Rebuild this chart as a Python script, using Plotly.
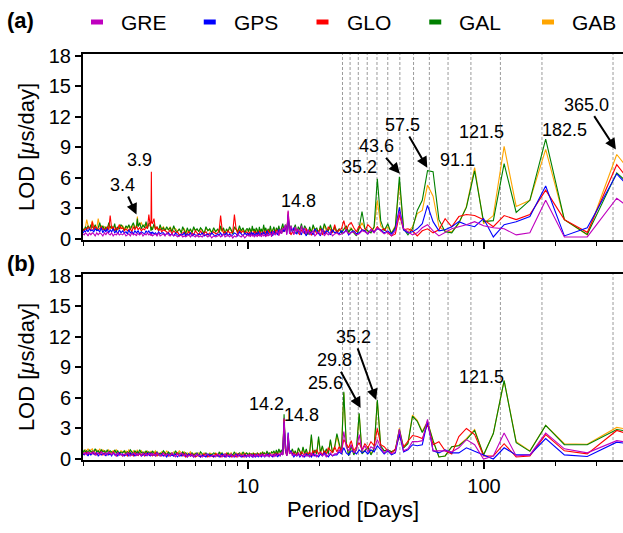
import math
import plotly.graph_objects as go

# ---------------- data ----------------
N_DAYS = 1095  # record length (days); periods = N_DAYS / k
K_LONG = list(range(2, 47))
K_MID = list(range(47, 111))
K_SHORT = [111, 113, 115, 117, 119, 121, 123, 125, 127, 129,
           131, 133, 135, 137, 139, 141, 143, 145, 147, 150,
           153, 156, 159, 162, 165, 168, 171, 174, 177, 180,
           183, 186, 189, 192, 195, 198, 201, 204, 207, 210,
           214, 218, 222, 226, 230, 234, 238, 242, 246, 250,
           254, 258, 262, 266, 270, 274, 278, 280, 281, 282,
           284, 288, 292, 296, 300, 305, 310, 315, 320, 322,
           325, 330, 335, 340, 345, 350, 355, 360, 366, 372,
           378, 384, 390, 396, 402, 408, 414, 420, 426, 432,
           438, 444, 451, 458, 465, 472, 479, 486, 493, 500,
           507, 514, 521, 528, 535, 541, 547]

SERIES = ["GRE", "GPS", "GLO", "GAL", "GAB"]
COLORS = {"GRE": "#bf00bf", "GPS": "#0000ff", "GLO": "#ff0000",
          "GAL": "#008000", "GAB": "#ffa500"}

# ---- panel (a) ----
A_GAL_LONG = [2.8, 6.5, 0.45, 1.9, 9.8, 3.8, 2.6, 7.4, 1.8, 1.7, 6.7, 3.1, 1.6, 0.6, 0.7,
              1.9, 6.6, 6.7, 3.8, 2.8, 1.0, 0.4, 1.0, 6.1, 1.2, 0.5, 1.5, 0.8, 1.8, 5.9,
              1.2, 0.6, 0.8, 1.0, 2.7, 1.1, 0.3, 0.6, 1.0, 0.7, 1.3, 0.9, 0.6, 1.0, 0.7]
A_GAB_LONG = [3.2, 8.3, 0.4, 1.9, 8.8, 3.8, 3.2, 9.1, 2.3, 1.5, 7.0, 3.2, 1.5, 0.7, 0.8,
              1.2, 4.2, 5.3, 2.8, 2.5, 1.2, 0.7, 1.0, 5.5, 1.3, 0.6, 1.2, 0.9, 1.3, 3.8,
              1.1, 0.8, 0.7, 1.0, 1.6, 1.0, 0.4, 0.7, 1.1, 0.6, 1.2, 1.0, 0.7, 0.9, 0.6]
A_GLO_LONG = [2.1, 7.3, 0.65, 1.9, 4.8, 2.4, 1.9, 2.3, 1.2, 1.9, 2.3, 2.4, 2.2, 1.2, 2.0,
              0.9, 0.6, 1.0, 0.8, 0.3, 0.8, 1.0, 0.9, 2.4, 0.5, 0.3, 0.6, 1.0, 0.8, 1.2,
              0.7, 1.1, 1.4, 0.8, 0.9, 1.3, 0.7, 1.1, 1.6, 1.4, 0.8, 1.8, 1.0, 0.9, 0.6]
A_GPS_LONG = [2.0, 6.4, 1.1, 0.3, 5.2, 2.2, 1.7, 1.4, 0.2, 2.0, 1.2, 1.4, 1.7, 1.2, 0.9,
              0.8, 1.7, 3.3, 1.5, 1.0, 0.7, 0.6, 0.9, 3.1, 1.0, 0.5, 0.8, 0.6, 0.9, 1.0,
              0.7, 0.9, 0.5, 0.8, 0.9, 0.6, 0.5, 0.8, 0.7, 0.4, 0.9, 0.6, 0.8, 0.5, 0.7]
A_GRE_LONG = [0.9, 4.0, 0.2, 0.2, 3.8, 0.6, 0.4, 1.0, 1.1, 1.3, 1.7, 1.4, 1.2, 1.0, 0.6,
              0.3, 0.8, 1.4, 1.1, 0.6, 0.4, 0.7, 1.0, 2.7, 0.8, 0.3, 0.7, 0.5, 0.8, 1.1,
              0.6, 0.9, 0.5, 0.7, 0.8, 0.5, 0.4, 0.7, 0.6, 0.5, 0.8, 0.6, 0.5, 0.4, 0.6]

A_GAL_MID = [1.2, 0.6, 1.4, 0.8, 1.0, 1.5, 0.7, 1.3, 0.5, 1.1, 0.9, 1.4, 0.6, 1.2, 0.4, 1.0,
             1.3, 0.7, 1.5, 0.9, 1.2, 0.6, 1.4, 1.0, 0.7, 1.3, 0.8, 2.2, 0.9, 1.4, 0.8, 1.5,
             1.0, 0.6, 1.3, 0.8, 1.1, 0.5, 1.2, 0.9, 0.6, 1.3, 0.7, 1.0, 0.5, 1.1, 0.8, 1.4,
             0.6, 1.0, 0.7, 1.2, 0.5, 0.9, 1.1, 0.6, 1.0, 0.8, 1.3, 0.6, 0.9, 1.1, 0.7, 1.0]
A_GAB_MID = [1.0, 0.7, 1.2, 0.9, 0.8, 1.3, 0.6, 1.1, 0.7, 1.0, 0.8, 1.2, 0.7, 1.0, 0.5, 0.9,
             1.1, 0.8, 1.2, 0.7, 1.0, 0.7, 1.2, 0.9, 0.8, 1.1, 0.7, 2.0, 0.8, 1.2, 0.7, 1.3,
             0.9, 0.7, 1.1, 0.8, 1.0, 0.6, 1.1, 0.8, 0.7, 1.1, 0.6, 0.9, 0.6, 1.0, 0.7, 1.2,
             0.7, 0.9, 0.6, 1.0, 0.6, 0.8, 1.0, 0.7, 0.9, 0.7, 1.1, 0.7, 0.8, 1.0, 0.7, 0.9]
A_GLO_MID = [1.4, 0.6, 0.9, 1.2, 0.5, 0.8, 0.4, 1.0, 0.7, 0.5, 0.9, 0.6, 0.4, 0.8, 0.6, 1.0,
             0.5, 0.7, 0.9, 0.4, 0.6, 0.8, 1.0, 0.5, 0.7, 0.4, 0.9, 2.7, 0.6, 1.1, 0.7, 0.9,
             0.5, 0.8, 0.4, 0.7, 0.9, 0.6, 0.5, 0.8, 0.4, 0.7, 0.6, 0.9, 0.3, 0.6, 0.8, 0.5,
             0.7, 0.4, 0.6, 0.8, 0.3, 0.6, 0.7, 0.5, 0.8, 0.4, 0.6, 0.7, 0.4, 0.7, 0.5, 0.6]
A_GPS_MID = [0.6, 0.9, 0.4, 0.7, 0.8, 0.5, 1.0, 0.3, 0.6, 0.8, 1.0, 0.4, 0.7, 0.5, 0.9, 0.3,
             0.6, 1.0, 0.4, 0.7, 0.8, 0.5, 0.6, 1.1, 0.7, 1.2, 0.6, 2.4, 0.5, 1.3, 0.7, 1.0,
             0.5, 0.8, 0.9, 0.4, 0.6, 0.5, 0.8, 0.3, 0.7, 0.5, 0.4, 0.6, 0.8, 0.3, 0.5, 0.7,
             0.4, 0.6, 0.3, 0.5, 0.7, 0.4, 0.6, 0.3, 0.5, 0.6, 0.4, 0.7, 0.3, 0.5, 0.4, 0.6]
A_GRE_MID = [0.5, 0.3, 0.7, 0.4, 0.6, 0.3, 0.9, 0.4, 0.7, 0.5, 0.3, 0.8, 0.6, 0.4, 0.9, 0.5,
             1.1, 0.6, 1.3, 0.5, 1.0, 0.7, 1.2, 0.4, 0.9, 1.3, 0.5, 2.8, 0.4, 1.4, 0.9, 1.1,
             0.5, 1.0, 0.3, 0.8, 0.6, 0.4, 0.5, 0.7, 0.2, 0.6, 0.4, 0.3, 0.5, 0.2, 0.4, 0.3,
             0.5, 0.2, 0.4, 0.3, 0.5, 0.2, 0.4, 0.3, 0.2, 0.4, 0.3, 0.5, 0.2, 0.4, 0.3, 0.4]

A_GAL_SHORT = [1.0, 0.6, 1.1, 0.8, 1.3, 0.7, 1.0, 1.2, 0.5, 0.9,
               1.2, 0.7, 1.0, 0.5, 1.1, 0.8, 1.3, 0.6, 1.0, 0.7,
               1.1, 0.6, 1.0, 0.8, 1.2, 0.5, 0.9, 1.1, 0.7, 1.0,
               0.8, 1.2, 0.6, 1.0, 0.7, 1.1, 0.5, 0.9, 1.2, 0.6,
               1.0, 0.7, 0.8, 1.3, 0.7, 1.1, 0.9, 1.2, 0.8, 1.1,
               0.9, 1.4, 0.8, 1.2, 1.0, 1.5, 0.9, 1.0, 1.2, 0.8,
               1.6, 1.5, 1.0, 1.7, 1.1, 1.4, 1.0, 1.6, 1.2, 2.0,
               1.2, 1.0, 1.6, 1.3, 0.9, 1.4, 1.1, 1.3, 0.8, 1.2,
               1.4, 1.0, 1.2, 0.7, 1.5, 0.9, 1.3, 1.1, 1.6, 0.9,
               1.2, 0.8, 1.3, 1.0, 1.6, 1.1, 0.8, 1.4, 1.0, 1.2,
               1.4, 0.9, 1.3, 1.0, 1.2, 0.8, 1.0]
A_GAB_SHORT = [0.9, 0.7, 1.0, 0.6, 1.1, 0.8, 0.9, 1.1, 0.6, 0.8,
               1.0, 0.8, 0.9, 0.6, 1.0, 0.7, 1.1, 0.7, 0.9, 0.8,
               0.9, 0.7, 0.8, 0.9, 1.0, 0.6, 0.8, 1.0, 0.8, 0.9,
               0.9, 1.0, 0.7, 0.9, 0.6, 0.8, 0.7, 1.0, 0.9, 0.7,
               0.9, 0.8, 1.0, 1.1, 0.8, 1.2, 0.9, 1.0, 0.9, 1.2,
               1.0, 1.2, 0.9, 1.1, 1.0, 1.3, 1.0, 1.2, 1.1, 0.9,
               1.3, 1.4, 1.2, 1.3, 1.4, 1.2, 1.6, 1.4, 1.3, 2.2,
               1.3, 1.2, 1.5, 1.1, 1.2, 1.3, 1.0, 1.2, 1.0, 1.3,
               1.1, 1.4, 1.0, 0.9, 1.3, 1.1, 1.2, 1.0, 1.4, 1.1,
               1.0, 1.2, 1.1, 1.3, 1.2, 2.0, 1.0, 1.3, 1.2, 1.8,
               1.2, 1.1, 1.3, 1.9, 1.1, 0.9, 1.0]
A_GLO_SHORT = [0.7, 0.5, 0.8, 0.6, 0.9, 0.5, 1.0, 2.4, 0.7, 0.6,
               0.6, 0.8, 0.5, 0.7, 0.6, 1.0, 2.3, 0.9, 0.6, 0.5,
               0.7, 0.5, 0.6, 0.4, 0.7, 0.6, 0.5, 0.8, 0.4, 0.6,
               0.8, 0.4, 0.6, 0.5, 0.7, 0.6, 0.4, 0.7, 0.6, 0.5,
               0.4, 0.7, 0.6, 0.8, 0.5, 0.9, 0.6, 0.7, 0.8, 0.9,
               0.7, 1.0, 0.8, 1.2, 0.9, 2.0, 1.5, 1.6, 6.6, 1.8,
               1.2, 2.4, 1.0, 1.2, 0.9, 1.0, 0.8, 1.1, 0.9, 1.1,
               1.2, 0.9, 1.2, 0.7, 1.0, 0.9, 0.8, 1.0, 0.8, 1.1,
               1.0, 1.4, 0.9, 1.1, 0.8, 1.2, 1.0, 2.3, 0.9, 1.2,
               0.8, 1.0, 0.9, 1.2, 1.0, 0.9, 1.1, 1.2, 0.9, 1.7,
               0.8, 1.0, 1.2, 0.9, 1.0, 0.9, 0.8]
A_GPS_SHORT = [0.4, 0.6, 0.3, 0.5, 0.7, 0.3, 0.5, 0.6, 0.4, 0.3,
               0.5, 0.3, 0.6, 0.4, 0.5, 0.3, 0.6, 0.4, 0.5, 0.3,
               0.4, 0.6, 0.3, 0.5, 0.4, 0.3, 0.6, 0.4, 0.5, 0.3,
               0.4, 0.5, 0.3, 0.6, 0.4, 0.5, 0.3, 0.6, 0.4, 0.5,
               0.3, 0.4, 0.6, 0.3, 0.5, 0.4, 0.6, 0.5, 0.4, 0.6,
               0.6, 0.5, 0.7, 0.4, 0.6, 0.5, 0.7, 0.5, 0.6, 0.7,
               0.5, 0.8, 0.6, 0.8, 0.5, 0.6, 0.7, 0.5, 0.8, 0.7,
               0.6, 0.8, 0.5, 0.7, 0.6, 0.9, 0.5, 0.7, 0.6, 0.8,
               0.6, 0.9, 0.5, 0.8, 0.6, 1.0, 0.7, 0.9, 0.6, 1.0,
               0.7, 0.9, 0.6, 1.1, 0.7, 0.9, 0.8, 1.0, 0.7, 0.9,
               0.8, 1.0, 0.7, 0.9, 0.7, 0.8, 0.6]
A_GRE_SHORT = [0.3, 0.1, 0.4, 0.2, 0.3, 0.5, 0.2, 0.3, 0.1, 0.4,
               0.2, 0.4, 0.3, 0.2, 0.5, 0.3, 0.2, 0.4, 0.3, 0.2,
               0.3, 0.1, 0.4, 0.2, 0.3, 0.5, 0.2, 0.3, 0.2, 0.4,
               0.2, 0.3, 0.5, 0.2, 0.4, 0.3, 0.2, 0.3, 0.2, 0.4,
               0.3, 0.2, 0.4, 0.3, 0.5, 0.3, 0.4, 0.6, 0.3, 0.5,
               0.4, 0.3, 0.6, 0.3, 0.5, 0.4, 0.3, 0.5, 0.4, 0.3,
               0.5, 0.4, 0.6, 0.4, 0.5, 0.3, 0.6, 0.4, 0.5, 0.6,
               0.3, 0.5, 0.4, 0.6, 0.3, 0.5, 0.4, 0.3, 0.6, 0.4,
               0.5, 0.4, 0.6, 0.4, 0.5, 0.3, 0.6, 0.4, 0.5, 0.7,
               0.4, 0.6, 0.3, 0.5, 0.6, 0.4, 0.6, 0.3, 0.5, 0.6,
               0.4, 0.6, 0.3, 0.5, 0.6, 0.4, 0.5]

# ---- panel (b) ----
B_GAL_LONG = [2.2, 2.9, 1.4, 1.4, 3.3, 0.75, 1.6, 7.7, 2.5, 0.4, 2.8, 1.9, 1.3, 1.2, 0.3,
              0.2, 1.8, 3.6, 2.6, 3.7, 4.2, 1.5, 1.1, 2.9, 0.9, 0.7, 0.9, 0.8, 1.3, 5.8,
              1.0, 0.4, 1.2, 0.8, 0.5, 4.5, 1.0, 0.4, 1.3, 0.3, 1.6, 6.6, 0.6, 1.4, 2.5]
B_GAB_LONG = [2.4, 3.1, 1.45, 1.5, 3.3, 0.8, 1.7, 7.7, 2.5, 0.4, 2.9, 2.0, 1.35, 1.2, 0.3,
              0.2, 1.8, 3.7, 2.7, 3.8, 4.3, 1.6, 1.1, 3.0, 0.9, 0.7, 0.9, 0.8, 1.2, 5.7,
              1.1, 0.5, 1.1, 0.9, 0.6, 4.4, 0.9, 0.5, 1.2, 0.4, 1.5, 6.5, 0.7, 1.3, 2.3]
B_GLO_LONG = [1.6, 2.8, 0.5, 0.8, 2.4, 0.3, 0.2, 1.5, 0.3, 0.3, 2.4, 3.0, 2.2, 0.5, 0.8,
              1.7, 1.4, 3.4, 2.0, 2.2, 2.3, 1.8, 1.2, 2.3, 1.0, 0.6, 0.8, 1.2, 1.4, 3.0,
              1.3, 1.7, 1.1, 1.5, 0.9, 1.6, 1.2, 0.8, 1.8, 1.1, 1.5, 1.9, 0.8, 1.2, 0.7]
B_GPS_LONG = [1.1, 1.65, 0.25, 0.4, 2.0, 0.4, 0.4, 1.1, 0.0, 0.4, 0.75, 1.1, 0.6, 0.6, 0.9,
              0.6, 0.8, 3.7, 1.4, 1.3, 1.4, 0.9, 0.7, 2.5, 0.6, 0.4, 0.8, 0.5, 0.9, 1.3,
              0.7, 0.9, 0.5, 0.8, 0.6, 0.9, 0.5, 0.7, 0.8, 0.4, 0.6, 1.1, 0.5, 0.7, 0.4]
B_GRE_LONG = [1.2, 1.8, 0.6, 1.0, 2.55, 0.4, 0.3, 2.55, 0.3, 0.0, 1.4, 1.9, 1.1, 0.7, 0.8,
              0.8, 0.8, 3.9, 1.8, 1.7, 1.7, 1.0, 0.8, 2.9, 0.7, 0.5, 0.9, 0.6, 1.1, 1.9,
              1.0, 1.2, 0.7, 1.3, 0.8, 2.4, 0.9, 0.6, 1.4, 0.8, 1.2, 2.7, 0.6, 0.9, 0.5]

B_GAL_MID = [1.2, 0.6, 1.9, 0.5, 1.0, 0.4, 1.3, 0.6, 2.2, 0.5, 0.9, 0.4, 2.4, 0.6, 0.3, 1.0,
             0.5, 1.2, 0.4, 0.7, 1.1, 0.3, 0.8, 0.5, 1.0, 0.6, 0.8, 2.2, 0.4, 1.0, 4.4, 0.5,
             0.9, 0.6, 1.0, 0.5, 0.9, 0.4, 0.8, 0.6, 0.7, 0.4, 0.6, 0.5, 0.8, 0.3, 0.6, 0.5,
             0.7, 0.4, 0.6, 0.3, 0.5, 0.6, 0.3, 0.5, 0.4, 0.6, 0.3, 0.5, 0.4, 0.6, 0.3, 0.5]
B_GAB_MID = [1.1, 0.6, 1.8, 0.6, 0.9, 0.5, 1.2, 0.6, 2.0, 0.6, 0.8, 0.5, 2.2, 0.6, 0.4, 0.9,
             0.5, 1.1, 0.5, 0.7, 1.0, 0.4, 0.8, 0.5, 0.9, 0.6, 0.7, 2.1, 0.4, 0.9, 4.0, 0.5,
             0.8, 0.6, 0.9, 0.5, 0.8, 0.5, 0.7, 0.6, 0.7, 0.5, 0.6, 0.5, 0.7, 0.4, 0.6, 0.5,
             0.7, 0.5, 0.6, 0.4, 0.5, 0.6, 0.4, 0.5, 0.5, 0.6, 0.4, 0.5, 0.5, 0.6, 0.4, 0.5]
B_GLO_MID = [1.2, 0.6, 0.9, 1.1, 0.5, 0.8, 0.4, 0.7, 0.5, 0.9, 0.6, 0.8, 0.3, 0.7, 0.5, 0.6,
             0.4, 0.5, 0.7, 0.3, 0.6, 0.5, 0.4, 0.6, 0.5, 0.8, 0.5, 1.3, 0.3, 0.8, 3.9, 0.4,
             0.6, 0.3, 0.5, 0.4, 0.6, 0.3, 0.5, 0.4, 0.3, 0.5, 0.4, 0.3, 0.5, 0.4, 0.3, 0.4,
             0.5, 0.3, 0.4, 0.3, 0.5, 0.4, 0.3, 0.4, 0.5, 0.3, 0.4, 0.3, 0.5, 0.3, 0.4, 0.3]
B_GPS_MID = [0.4, 0.3, 0.5, 0.2, 0.4, 0.6, 0.3, 0.5, 0.2, 0.4, 0.3, 0.5, 0.2, 0.4, 0.3, 0.5,
             0.2, 0.3, 0.4, 0.2, 0.5, 0.3, 0.4, 0.2, 0.5, 0.8, 0.6, 2.6, 0.3, 1.0, 3.6, 0.4,
             0.6, 0.3, 0.4, 0.2, 0.5, 0.3, 0.4, 0.2, 0.3, 0.4, 0.2, 0.5, 0.3, 0.4, 0.2, 0.3,
             0.4, 0.2, 0.3, 0.4, 0.2, 0.3, 0.4, 0.2, 0.3, 0.4, 0.2, 0.3, 0.4, 0.2, 0.3, 0.4]
B_GRE_MID = [0.5, 0.3, 0.6, 0.4, 0.2, 0.5, 0.3, 0.6, 0.4, 0.2, 0.5, 0.3, 0.6, 0.2, 0.4, 0.3,
             0.5, 0.2, 0.4, 0.3, 0.6, 0.3, 0.4, 0.5, 0.3, 0.7, 0.5, 2.5, 0.3, 1.1, 4.0, 0.4,
             0.7, 0.3, 0.5, 0.4, 0.3, 0.5, 0.2, 0.4, 0.3, 0.5, 0.2, 0.4, 0.3, 0.5, 0.2, 0.4,
             0.3, 0.5, 0.2, 0.4, 0.3, 0.5, 0.2, 0.4, 0.3, 0.2, 0.4, 0.3, 0.5, 0.2, 0.4, 0.3]

B_GAL_SHORT = [0.6, 0.4, 0.7, 0.3, 0.6, 0.5, 0.3, 0.7, 0.4, 0.5,
               0.3, 0.6, 0.4, 0.5, 0.3, 0.6, 0.4, 0.7, 0.3, 0.5,
               0.6, 0.4, 0.5, 0.3, 0.6, 0.4, 0.5, 0.7, 0.3, 0.6,
               0.5, 0.4, 0.6, 0.3, 0.5, 0.4, 0.6, 0.5, 0.7, 0.4,
               0.6, 0.5, 0.8, 0.4, 0.6, 0.5, 0.7, 0.4, 0.6, 0.8,
               0.5, 0.6, 0.4, 0.7, 0.5, 0.6, 0.8, 0.5, 0.7, 0.6,
               0.5, 0.7, 0.6, 0.8, 0.5, 0.7, 0.6, 0.9, 0.5, 0.7,
               0.6, 0.8, 0.5, 0.7, 0.9, 0.6, 0.7, 0.5, 0.8, 0.6,
               0.7, 0.5, 0.8, 0.6, 0.9, 0.5, 0.7, 0.8, 0.6, 0.9,
               0.6, 0.8, 0.7, 0.9, 0.6, 0.8, 0.7, 1.0, 0.7, 0.8,
               0.7, 0.9, 0.6, 0.8, 0.7, 0.9, 0.6]
B_GAB_SHORT = [0.5, 0.6, 0.4, 0.6, 0.5, 0.4, 0.6, 0.5, 0.3, 0.6,
               0.5, 0.4, 0.6, 0.3, 0.5, 0.4, 0.6, 0.5, 0.4, 0.6,
               0.3, 0.5, 0.6, 0.4, 0.5, 0.6, 0.4, 0.5, 0.6, 0.4,
               0.6, 0.5, 0.4, 0.7, 0.5, 0.6, 0.4, 0.7, 0.5, 0.6,
               0.8, 0.5, 0.6, 0.7, 0.5, 0.6, 0.5, 0.8, 0.5, 0.6,
               0.7, 0.5, 0.6, 0.5, 0.8, 0.6, 0.5, 0.7, 0.6, 0.8,
               0.6, 0.5, 0.8, 0.6, 0.7, 0.5, 0.8, 0.6, 0.7, 0.9,
               0.7, 0.6, 0.8, 0.5, 0.7, 0.9, 0.6, 0.8, 0.6, 0.7,
               0.8, 0.6, 0.7, 0.9, 0.6, 0.8, 0.7, 0.6, 0.9, 0.7,
               0.8, 0.7, 0.9, 0.6, 1.0, 0.7, 0.9, 0.8, 0.7, 1.0,
               0.9, 0.7, 1.0, 0.8, 0.9, 0.7, 0.8]
B_GLO_SHORT = [0.3, 0.5, 0.2, 0.4, 0.3, 0.5, 0.2, 0.4, 0.3, 0.2,
               0.4, 0.3, 0.5, 0.2, 0.4, 0.3, 0.2, 0.4, 0.3, 0.5,
               0.2, 0.3, 0.4, 0.2, 0.3, 0.5, 0.3, 0.2, 0.4, 0.3,
               0.2, 0.4, 0.3, 0.5, 0.3, 0.4, 0.2, 0.5, 0.3, 0.4,
               0.3, 0.6, 0.4, 0.3, 0.5, 0.4, 0.3, 0.5, 0.4, 0.6,
               0.3, 0.4, 0.5, 0.3, 0.6, 0.4, 0.3, 0.5, 0.4, 0.6,
               0.3, 0.5, 0.4, 0.6, 0.3, 0.5, 0.4, 0.6, 0.3, 0.5,
               0.4, 0.6, 0.3, 0.5, 0.4, 0.6, 0.3, 0.5, 0.4, 0.3,
               0.5, 0.4, 0.6, 0.3, 0.5, 0.7, 0.4, 0.6, 0.5, 0.4,
               0.5, 0.6, 0.4, 0.7, 0.5, 0.6, 0.4, 0.6, 0.5, 0.7,
               0.5, 0.6, 0.4, 0.7, 0.5, 0.6, 0.4]
B_GPS_SHORT = [0.2, 0.4, 0.3, 0.2, 0.4, 0.3, 0.5, 0.2, 0.3, 0.4,
               0.2, 0.3, 0.4, 0.2, 0.3, 0.5, 0.3, 0.2, 0.4, 0.3,
               0.2, 0.4, 0.3, 0.5, 0.2, 0.3, 0.4, 0.2, 0.3, 0.5,
               0.3, 0.2, 0.4, 0.3, 0.5, 0.2, 0.4, 0.3, 0.5, 0.3,
               0.4, 0.2, 0.5, 0.3, 0.4, 0.3, 0.5, 0.2, 0.4, 0.3,
               0.5, 0.3, 0.4, 0.6, 0.3, 0.4, 0.5, 0.3, 0.4, 0.6,
               0.3, 0.4, 0.6, 0.3, 0.5, 0.4, 0.3, 0.5, 0.4, 0.6,
               0.4, 0.3, 0.5, 0.4, 0.6, 0.3, 0.5, 0.4, 0.3, 0.5,
               0.4, 0.6, 0.3, 0.5, 0.4, 0.6, 0.3, 0.5, 0.4, 0.6,
               0.3, 0.5, 0.6, 0.4, 0.5, 0.3, 0.6, 0.4, 0.5, 0.6,
               0.4, 0.6, 0.3, 0.5, 0.6, 0.4, 0.5]
B_GRE_SHORT = [0.3, 0.2, 0.4, 0.3, 0.5, 0.2, 0.4, 0.3, 0.2, 0.5,
               0.3, 0.4, 0.2, 0.5, 0.3, 0.2, 0.4, 0.3, 0.5, 0.2,
               0.4, 0.3, 0.2, 0.4, 0.5, 0.3, 0.2, 0.4, 0.3, 0.5,
               0.4, 0.2, 0.5, 0.3, 0.4, 0.2, 0.5, 0.3, 0.4, 0.6,
               0.3, 0.5, 0.2, 0.4, 0.6, 0.3, 0.4, 0.5, 0.3, 0.6,
               0.4, 0.3, 0.5, 0.6, 0.3, 0.5, 0.4, 0.6, 0.3, 0.5,
               0.4, 0.6, 0.3, 0.5, 0.4, 0.6, 0.3, 0.5, 0.4, 0.6,
               0.3, 0.5, 0.6, 0.4, 0.3, 0.5, 0.6, 0.4, 0.5, 0.3,
               0.5, 0.4, 0.6, 0.3, 0.5, 0.6, 0.4, 0.5, 0.7, 0.4,
               0.6, 0.4, 0.5, 0.7, 0.4, 0.6, 0.5, 0.4, 0.7, 0.5,
               0.6, 0.5, 0.7, 0.4, 0.6, 0.5, 0.6]

# reference period lines (P/n) and peak labels
REF_BASE_PERIOD = 352.0
REF_HARMONICS = list(range(1, 15))

# (label, text x [days], text y, arrow head x [days] or None, arrow head y)
LABELS_A = [("3.4", 2.95, 5.3, 3.37, 2.4), ("3.9", 3.46, 7.8, None, None),
            ("14.8", 16.3, 3.7, None, None), ("35.2", 29.6, 7.1, None, None),
            ("43.6", 34.9, 9.1, 44.0, 6.4), ("57.5", 45.2, 11.2, 57.5, 7.0),
            ("91.1", 77.1, 7.8, None, None), ("121.5", 97.1, 10.5, None, None),
            ("182.5", 218.9, 10.7, None, None), ("365.0", 272.4, 13.2, 362.0, 8.8)]
LABELS_B = [("14.2", 12.0, 5.4, None, None), ("14.8", 16.9, 4.3, None, None),
            ("25.6", 21.4, 7.5, None, None), ("29.8", 23.3, 9.7, 30.0, 5.0),
            ("35.2", 28.0, 12.0, 34.9, 5.8), ("121.5", 97.8, 8.05, None, None)]

# ---------------- figure ----------------
FONT = "Liberation Sans, Arial, sans-serif"
K_ALL = K_LONG + K_MID + K_SHORT
PERIODS = [N_DAYS / k for k in K_ALL]

panels = {
    "a": {"GRE": A_GRE_LONG + A_GRE_MID + A_GRE_SHORT,
          "GPS": A_GPS_LONG + A_GPS_MID + A_GPS_SHORT,
          "GLO": A_GLO_LONG + A_GLO_MID + A_GLO_SHORT,
          "GAL": A_GAL_LONG + A_GAL_MID + A_GAL_SHORT,
          "GAB": A_GAB_LONG + A_GAB_MID + A_GAB_SHORT},
    "b": {"GRE": B_GRE_LONG + B_GRE_MID + B_GRE_SHORT,
          "GPS": B_GPS_LONG + B_GPS_MID + B_GPS_SHORT,
          "GLO": B_GLO_LONG + B_GLO_MID + B_GLO_SHORT,
          "GAL": B_GAL_LONG + B_GAL_MID + B_GAL_SHORT,
          "GAB": B_GAB_LONG + B_GAB_MID + B_GAB_SHORT},
}
axes = {"a": ("x", "y"), "b": ("x2", "y2")}

fig = go.Figure()
# draw order: GAB first ... GRE last (on top)
for p in ["a", "b"]:
    xa, ya = axes[p]
    for name in reversed(SERIES):
        vals = panels[p][name]
        pts = sorted(zip(PERIODS, vals))
        fig.add_trace(go.Scatter(
            x=[q[0] for q in pts], y=[q[1] for q in pts], mode="lines", name=name,
            line=dict(color=COLORS[name], width=1.1), showlegend=False,
            xaxis=xa, yaxis=ya, hoverinfo="skip"))

XR = [math.log10(2.0), math.log10(388.0)]
minor_vals = [2, 3, 4, 5, 6, 7, 8, 9, 20, 30, 40, 50, 60, 70, 80, 90, 200, 300]
xcommon = dict(type="log", range=XR, showline=True, linewidth=2, linecolor="black",
               mirror=True, ticks="outside", ticklen=7, tickwidth=1.5, tickcolor="black",
               tickvals=[10, 100], ticktext=["10", "100"], showgrid=False, zeroline=False,
               minor=dict(tickvals=minor_vals, ticks="outside", ticklen=4, tickwidth=1.2,
                          tickcolor="black", showgrid=False),
               tickfont=dict(size=20, family=FONT, color="black"))
ycommon = dict(range=[-0.1, 18.17], tickvals=[0, 3, 6, 9, 12, 15, 18], showline=True,
               linewidth=2, linecolor="black", ticks="outside", ticklen=6, tickwidth=1.5,
               tickcolor="black", showgrid=False, zeroline=False,
               tickfont=dict(size=20, family=FONT, color="black"),
               title=dict(text="LOD [<i>μ</i>s/day]", font=dict(size=22, family=FONT,
                                                               color="black"), standoff=8))

# pixel geometry of the plotting area (used for paper placement of legend & labels)
W, H = 623, 533
ML, MR, MT, MB = 83, 0, 54, 73
PW, PH = W - ML - MR, H - MT - MB

def px_to_paper(px, py):
    return (px - ML) / PW, (H - MB - py) / PH

dom_a = [0.5419, 1.0]
dom_b = [0.0, 0.4581]
fig.update_layout(
    width=W, height=H,
    margin=dict(l=ML, r=MR, t=MT, b=MB),
    paper_bgcolor="white", plot_bgcolor="white",
    font=dict(family=FONT, color="black"),
    xaxis=dict(**xcommon, anchor="y", showticklabels=False, matches="x2"),
    yaxis=dict(**ycommon, domain=dom_a, anchor="x"),
    xaxis2=dict(**xcommon, anchor="y2",
                title=dict(text="Period [Days]", font=dict(size=22, family=FONT,
                                                           color="black"), standoff=6)),
    yaxis2=dict(**ycommon, domain=dom_b, anchor="x2"),
    showlegend=False,
)

shapes = []
for xa, yd in [("x", "y domain"), ("x2", "y2 domain")]:
    for n in REF_HARMONICS:
        shapes.append(dict(type="line", xref=xa, yref=yd, x0=REF_BASE_PERIOD / n,
                           x1=REF_BASE_PERIOD / n, y0=0, y1=1, layer="below",
                           line=dict(color="#9a9a9a", width=1, dash="3px,2px")))

ann = []
# legend row (short thick colour dash + series name)
LEG_X0, LEG_DX, LEG_Y = 97, 112.75, 22
for i, name in enumerate(SERIES):
    cx = LEG_X0 + i * LEG_DX
    xa0, ya0 = px_to_paper(cx - 6, LEG_Y)
    xa1, _ = px_to_paper(cx + 6, LEG_Y)
    shapes.append(dict(type="line", xref="paper", yref="paper", x0=xa0, x1=xa1,
                       y0=ya0, y1=ya0, line=dict(color=COLORS[name], width=5)))
    tx, ty = px_to_paper(cx + 22, LEG_Y)
    ann.append(dict(text=name, xref="paper", yref="paper", x=tx, y=ty, xanchor="left",
                    yanchor="middle", showarrow=False,
                    font=dict(size=21, family=FONT, color="black")))
fig.update_layout(shapes=shapes)

for labels, xa, ya in [(LABELS_A, "x", "y"), (LABELS_B, "x2", "y2")]:
    for text, tx, ty, hx, hy in labels:
        if hx is None:
            ann.append(dict(text=text, x=math.log10(tx), y=ty, xref=xa, yref=ya,
                            showarrow=False, font=dict(size=18, family=FONT, color="black")))
        else:
            ann.append(dict(text=text, x=math.log10(hx), y=hy, xref=xa, yref=ya,
                            ax=math.log10(tx), ay=ty, axref=xa, ayref=ya,
                            showarrow=True, arrowhead=2, arrowsize=1.1, arrowwidth=2,
                            arrowcolor="black", standoff=0,
                            font=dict(size=18, family=FONT, color="black")))
ax_, ay_ = px_to_paper(5, 20)
ann.append(dict(text="<b>(a)</b>", xref="paper", yref="paper", x=ax_, y=ay_,
                xanchor="left", yanchor="middle", showarrow=False,
                font=dict(size=22, family=FONT, color="black")))
bx_, by_ = px_to_paper(5, 263)
ann.append(dict(text="<b>(b)</b>", xref="paper", yref="paper", x=bx_, y=by_,
                xanchor="left", yanchor="middle", showarrow=False,
                font=dict(size=22, family=FONT, color="black")))
fig.update_layout(annotations=ann)

fig.write_html("out.html")
